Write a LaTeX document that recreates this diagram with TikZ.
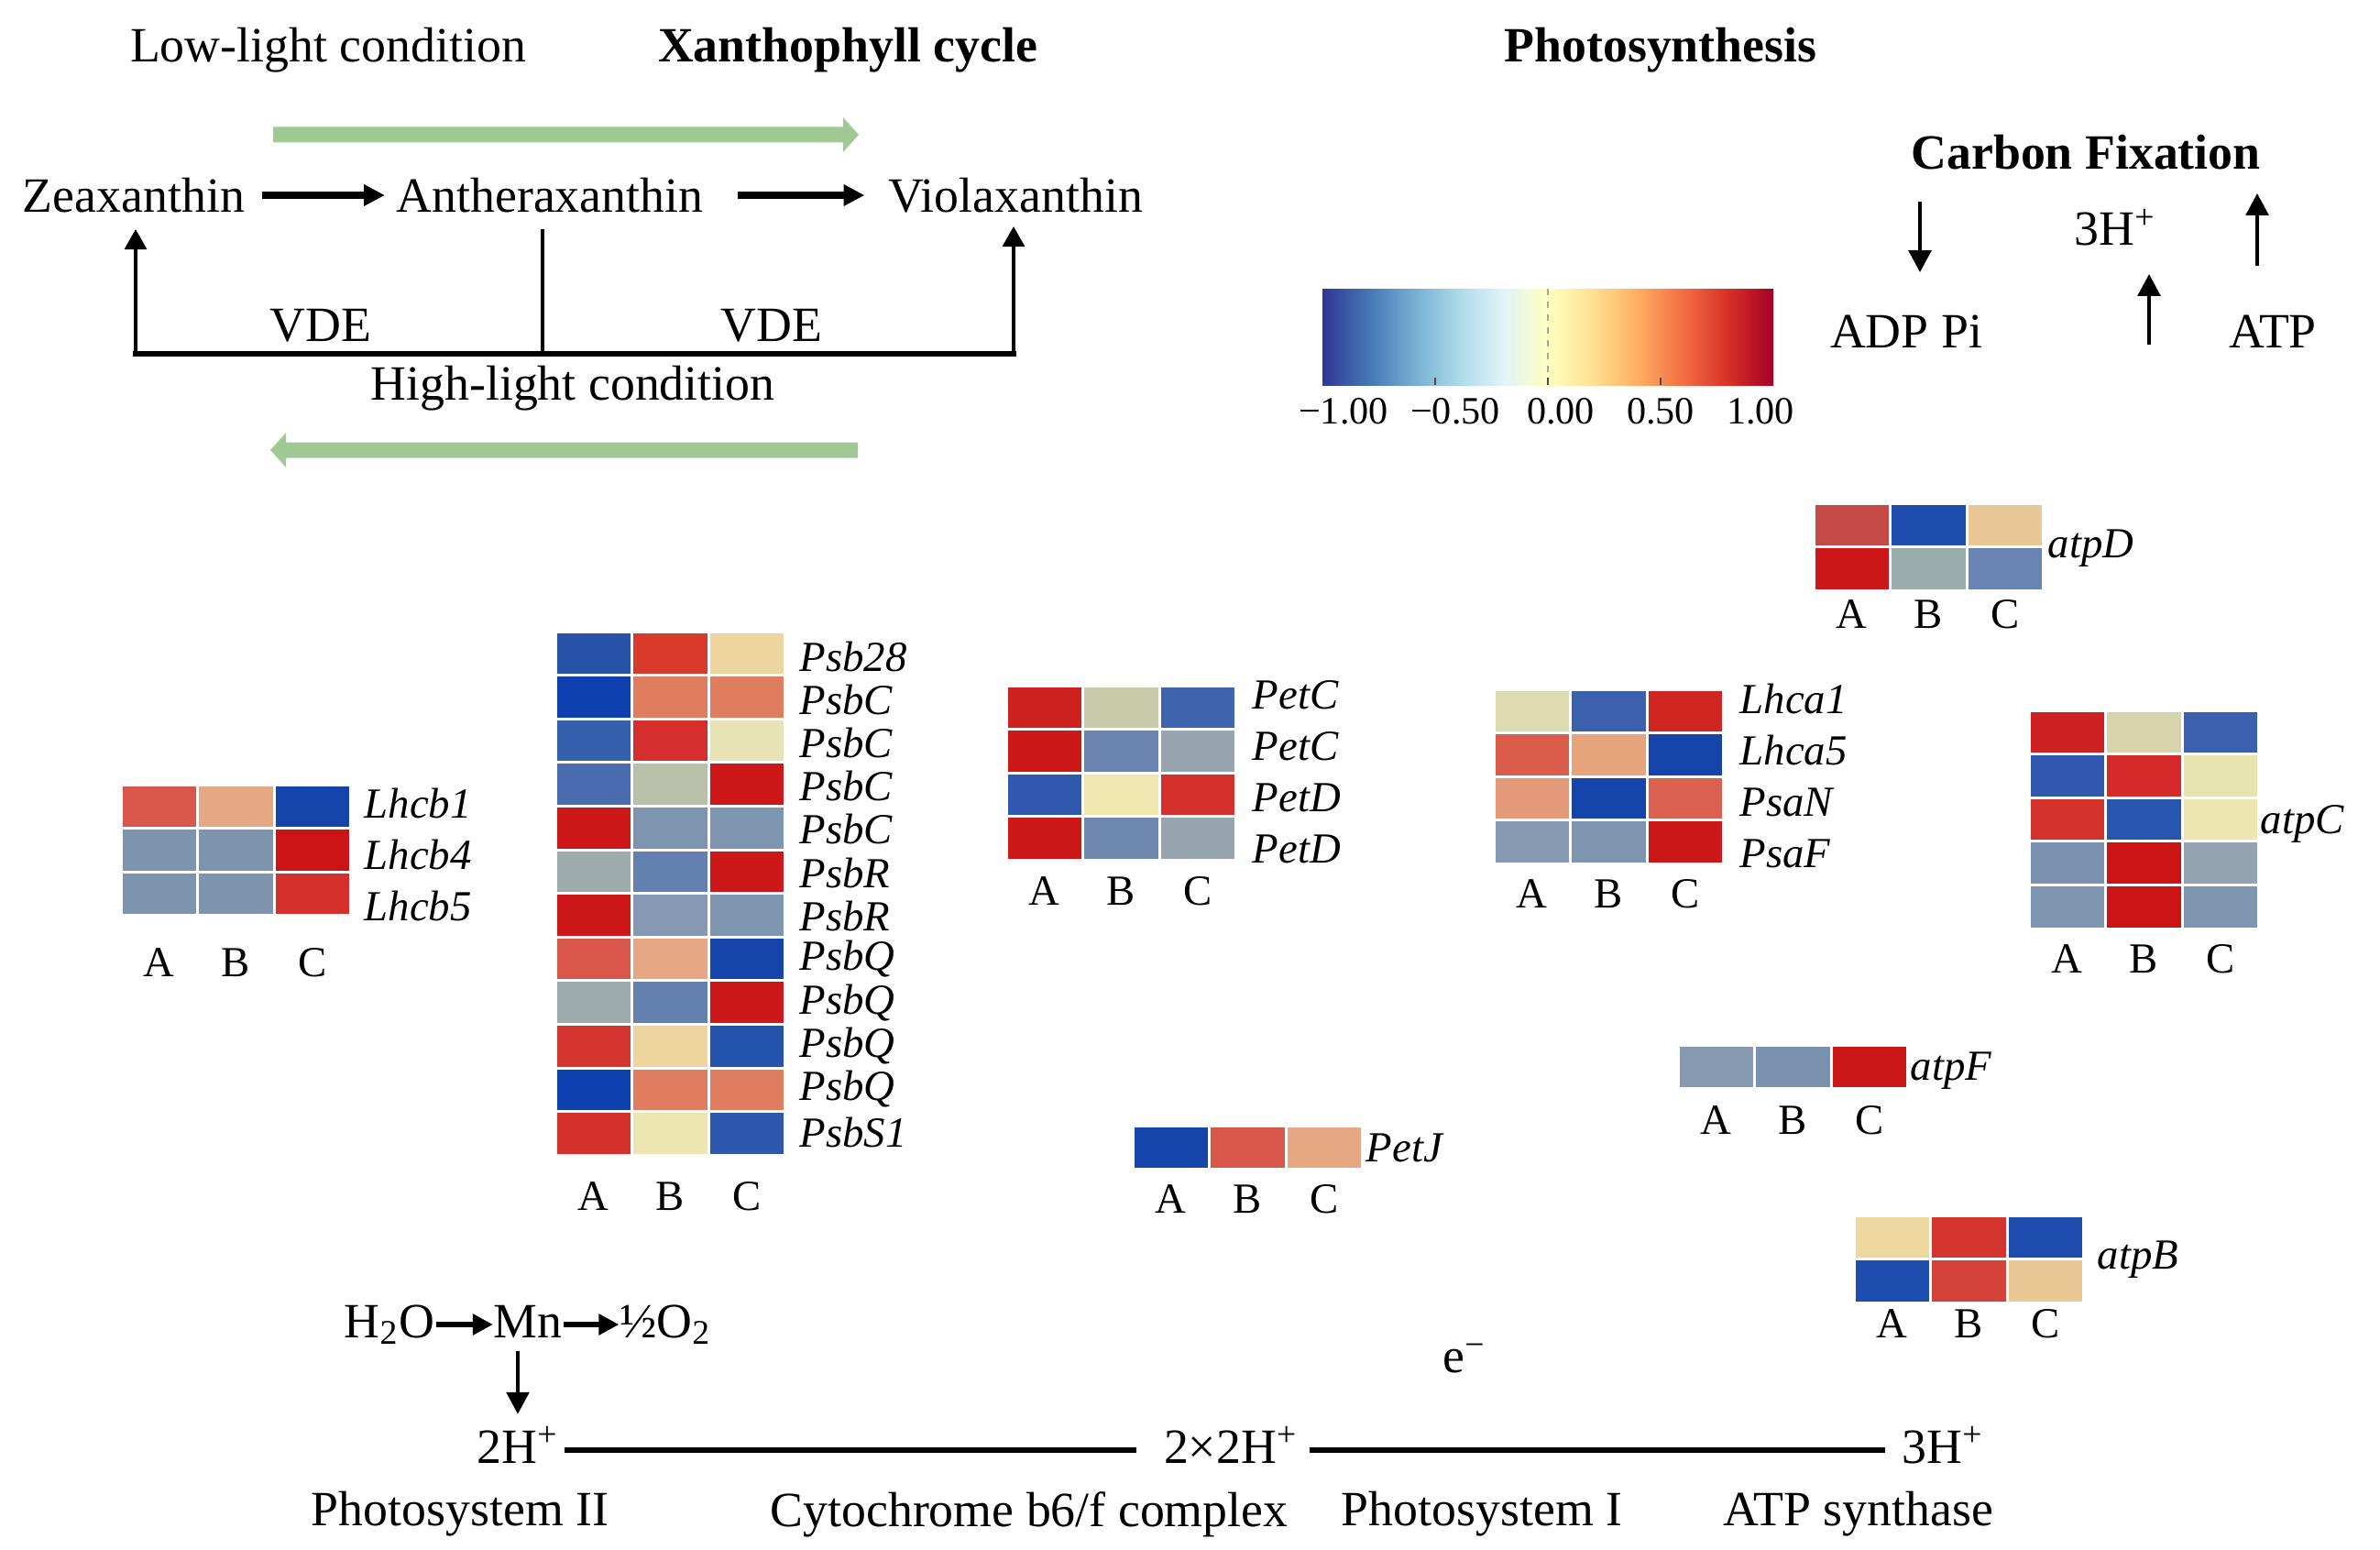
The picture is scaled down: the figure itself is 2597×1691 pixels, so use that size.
\documentclass[tikz,border=0pt]{standalone}
\usepackage{fontspec}
\setmainfont{Liberation Serif}
\usetikzlibrary{arrows.meta}
\newcommand\fmain{\fontsize{15.3}{18}\selectfont}
\newcommand\frow{\fontsize{13.3}{16}\selectfont\itshape}
\newcommand\fcol{\fontsize{13.3}{16}\selectfont}
\newcommand\fcb{\fontsize{12}{14}\selectfont}
\definecolor{lgreen}{HTML}{A1C995}
\definecolor{cbA}{HTML}{313695}
\definecolor{cbB}{HTML}{4575B4}
\definecolor{cbC}{HTML}{74ADD1}
\definecolor{cbD}{HTML}{ABD9E9}
\definecolor{cbE}{HTML}{E0F3F8}
\definecolor{cbF}{HTML}{FFFFBF}
\definecolor{cbG}{HTML}{FEE090}
\definecolor{cbH}{HTML}{FDAE61}
\definecolor{cbI}{HTML}{F46D43}
\definecolor{cbJ}{HTML}{D73027}
\definecolor{cbK}{HTML}{A50026}
\pgfdeclarehorizontalshading{rdylbu}{100bp}{color(0bp)=(cbA); color(25bp)=(cbA); color(30bp)=(cbB); color(35bp)=(cbC); color(40bp)=(cbD); color(45bp)=(cbE); color(50bp)=(cbF); color(55bp)=(cbG); color(60bp)=(cbH); color(65bp)=(cbI); color(70bp)=(cbJ); color(75bp)=(cbK); color(100bp)=(cbK)}
\def\cellw{83.5}
\def\cellh{47.6}
\newcommand\heatmap[3]{%
 \foreach \ca/\cb/\cc [count=\r from 0] in {#3}{%
  \edef\tmp{\noexpand\definecolor{hA}{HTML}{\ca}\noexpand\definecolor{hB}{HTML}{\cb}\noexpand\definecolor{hC}{HTML}{\cc}}\tmp
  \fill[hA] ({#1+1.5},{#2+\r*\cellh+1.5}) rectangle ++({\cellw-3},{\cellh-3});
  \fill[hB] ({#1+\cellw+1.5},{#2+\r*\cellh+1.5}) rectangle ++({\cellw-3},{\cellh-3});
  \fill[hC] ({#1+2*\cellw+1.5},{#2+\r*\cellh+1.5}) rectangle ++({\cellw-3},{\cellh-3});
 }}
\newcommand\collabels[3]{%
 \foreach \t [count=\i from 0] in {A,B,C}{\node[cl] (#1\t) at ({#2+\cellw/2+\i*\cellw},#3) {\t};}}
\begin{document}
\begin{tikzpicture}[x=0.01cm,y=-0.01cm,
 txt/.style={inner sep=0pt, font=\fmain},
 ttl/.style={inner sep=0pt, font=\fmain\bfseries},
 rl/.style={inner sep=0pt, anchor=west, font=\frow},
 cl/.style={inner sep=0pt, font=\fcol},
 cbl/.style={inner sep=0pt, font=\fcb},
 form/.style={inner sep=0pt, font=\fmain, text height=11pt, text depth=3pt},
 big/.style={line width=2pt, -{Triangle[length=6.5pt,width=6.3pt]}},
 brkarr/.style={line width=1.1pt, -{Triangle[length=6.3pt,width=6.8pt]}},
 mid/.style={line width=1.7pt, -{Triangle[length=6.3pt,width=6.3pt]}},
 slim/.style={line width=1.1pt, -{Triangle[length=6.8pt,width=7pt]}},
 bar/.style={line width=1.6pt}]
\useasboundingbox (0,0) rectangle (2597,1691);
% ---------- Xanthophyll cycle ----------
\node[txt] (low) at (358,55) {Low-light condition};
\node[ttl] (xc) at (925,55) {Xanthophyll cycle};
\node[ttl] (ps) at (1812,55) {Photosynthesis};
\fill[lgreen] (298,138.5) -- (920,138.5) -- (920,128) -- (937,147) -- (920,166) -- (920,155.5) -- (298,155.5) -- cycle;
\node[txt] (zea) at (146,213) {Zeaxanthin};
\node[txt] (anth) at (600,213) {Antheraxanthin};
\node[txt] (vio) at (1108,213) {Violaxanthin};
\draw[big, shorten <=0.18cm, shorten >=0.12cm] (zea) -- (anth);
\draw[big, shorten <=0.37cm, shorten >=0.25cm] (anth) -- (vio);
\coordinate (bl) at (148,386);
\coordinate (bm) at (592,386);
\coordinate (br) at (1106,386);
\coordinate (zt) at (148,250);
\coordinate (mt) at (592,250);
\coordinate (vt) at (1106,247);
\draw[line width=1.7pt, line cap=rect] (bl) -- (br);
\draw[brkarr] (bl) -- (zt);
\draw[brkarr] (br) -- (vt);
\draw[line width=1.1pt] (bm) -- (mt);
\node[txt] (vde1) at (350,355) {VDE};
\node[txt] (vde2) at (842,355) {VDE};
\node[txt] (high) at (625,424) {High-light condition};
\fill[lgreen] (936,482.5) -- (312,482.5) -- (312,472) -- (295,491) -- (312,510) -- (312,499.5) -- (936,499.5) -- cycle;
% ---------- colour bar ----------
\shade[shading=rdylbu] (1443,315) rectangle (1935,420);
\draw[black!35, line width=0.3pt, dash pattern=on 2pt off 2pt] (1689,315) -- (1689,420);
\foreach \tx in {1566,1689,1812} \draw[black!70, line width=0.4pt] (\tx,420) -- (\tx,412);
\node[cbl] (cb1) at (1466,449) {−1.00};
\node[cbl] (cb2) at (1588,449) {−0.50};
\node[cbl] (cb3) at (1703,449) {0.00};
\node[cbl] (cb4) at (1812,449) {0.50};
\node[cbl] (cb5) at (1921,449) {1.00};
% ---------- carbon fixation ----------
\node[ttl] (cf) at (2276,166) {Carbon Fixation};
\node[txt] (h3top) at (2308,248) {3H\textsuperscript{+}};
\node[txt] (adp) at (2080,362) {ADP Pi};
\node[txt] (atp) at (2480,362) {ATP};
\coordinate (d1s) at (2095,220);
\coordinate (d1e) at (2095,297);
\coordinate (u1s) at (2345,376);
\coordinate (u1e) at (2345,299);
\coordinate (u2s) at (2463,290);
\coordinate (u2e) at (2463,211);
\draw[slim] (d1s) -- (d1e);
\draw[slim] (u1s) -- (u1e);
\draw[slim] (u2s) -- (u2e);
% ---------- heat maps ----------
% Lhcb
\heatmap{132}{856}{D9574A/E5A882/1545AA,%
7D93AE/7D93AE/CC1417,%
7D93AE/7D93AE/D4302C}
\foreach \t [count=\i from 0] in {Lhcb1,Lhcb4,Lhcb5}{\node[rl] (lhcb\i) at (397,{876+\i*56}) {\t};}
\collabels{lhcb}{132}{1050}
% Psb
\heatmap{606}{689}{2653A5/D83A2B/EDD5A0,%
0E41AF/DF7D5E/DF7D5E,%
3560AE/D42F2C/E8E3B5,%
4A6CB0/B9C0AA/CC1818,%
CC1818/7E95B0/7E95B0,%
9CACAC/6480B0/CC1818,%
CC1818/8599B5/7E95B0,%
D9574A/E6A882/1545AA,%
9CACAC/6480B0/CC1818,%
D4352E/EED5A0/2353AD,%
0E41AF/DF7D5E/DF7D5E,%
D4302C/EDE6B0/2D58AB}
\foreach \t [count=\i from 0] in {Psb28,PsbC,PsbC,PsbC,PsbC,PsbR,PsbR,PsbQ,PsbQ,PsbQ,PsbQ,PsbS1}{\node[rl] (psb\i) at (872,{716+\i*47.2}) {\t};}
\collabels{psb}{606}{1305}
% Pet
\heatmap{1098}{748}{CE2220/C9CAAA/3E64AE,%
CC1818/6A83B0/97A6AE,%
2F58AE/F0E6B0/D4302C,%
CC1818/6E88B0/97A6AE}
\foreach \t [count=\i from 0] in {PetC,PetC,PetD,PetD}{\node[rl] (pet\i) at (1366,{758+\i*56}) {\t};}
\collabels{pet}{1098}{972}
% Lhca / Psa
\heatmap{1630}{752}{DDDBB0/3A60AE/D02622,%
DA5C4A/E5A47C/1544AA,%
E49A78/1544AA/DA6050,%
8599B0/7E95B0/CC1818}
\foreach \t [count=\i from 0] in {Lhca1,Lhca5,PsaN,PsaF}{\node[rl] (lhca\i) at (1898,{763+\i*56}) {\t};}
\collabels{lhca}{1630}{975}
% atpD
\heatmap{1979}{549}{C34A45/1F4CAF/EAC796,%
CC1818/9AACAC/6A85B3}
\node[rl] (atpDl) at (2234,598) {atpD};
\collabels{atpd}{1979}{670}
% atpC
\heatmap{2214}{775}{CE2222/D6D4AC/3A60AE,%
2F58AE/D42B2A/E8E4B0,%
D4322D/2855AE/EEE6B0,%
7A92B0/CC1417/93A4B0,%
7E95B0/CC1417/7E95B0}
\node[rl] (atpCl) at (2466,899) {atpC};
\collabels{atpc}{2214}{1046}
% atpF
\heatmap{1831}{1140}{8599B0/7A92B0/CC1818}
\node[rl] (atpFl) at (2084,1168) {atpF};
\collabels{atpf}{1831}{1222}
% PetJ
\heatmap{1236}{1228}{1545AA/D9574A/E5A882}
\node[rl] (petJl) at (1490,1252) {PetJ};
\collabels{petj}{1236}{1308}
% atpB
\heatmap{2023}{1326}{EED8A0/D4352E/1F4CAF,%
1F4CAF/D4423A/EAC896}
\node[rl] (atpBl) at (2288,1374) {atpB};
\collabels{atpb}{2023}{1444}
% ---------- electron transport ----------
\node[form] (h2o) at (425,1445) {H\textsubscript{2}O};
\node[form] (mn) at (576,1445) {Mn};
\node[form] (o2) at (726,1445) {½O\textsubscript{2}};
\draw[mid, shorten <=0.01cm] (h2o) -- (mn);
\draw[mid, shorten <=0.01cm] (mn) -- (o2);
\node[form] (h2p) at (565,1582) {2H\textsuperscript{+}};
\node[form] (hh) at (1343,1582) {2×2H\textsuperscript{+}};
\node[form] (h3) at (2120,1582) {3H\textsuperscript{+}};
\draw[slim, shorten <=0.04cm, shorten >=0.14cm] (mn.south -| h2p) -- (h2p.north);
\draw[bar, shorten <=0.06cm, shorten >=0.29cm] (h2p) -- (hh);
\draw[bar, shorten <=0.12cm, shorten >=0.18cm] (hh) -- (h3);
\node[txt] (em) at (1598,1482) {e\textsuperscript{−}};
\node[txt] (ps2) at (502,1652) {Photosystem II};
\node[txt] (cyt) at (1123,1652) {Cytochrome b6/f complex};
\node[txt] (ps1) at (1617,1652) {Photosystem I};
\node[txt] (atps) at (2028,1652) {ATP synthase};
\end{tikzpicture}
\end{document}
